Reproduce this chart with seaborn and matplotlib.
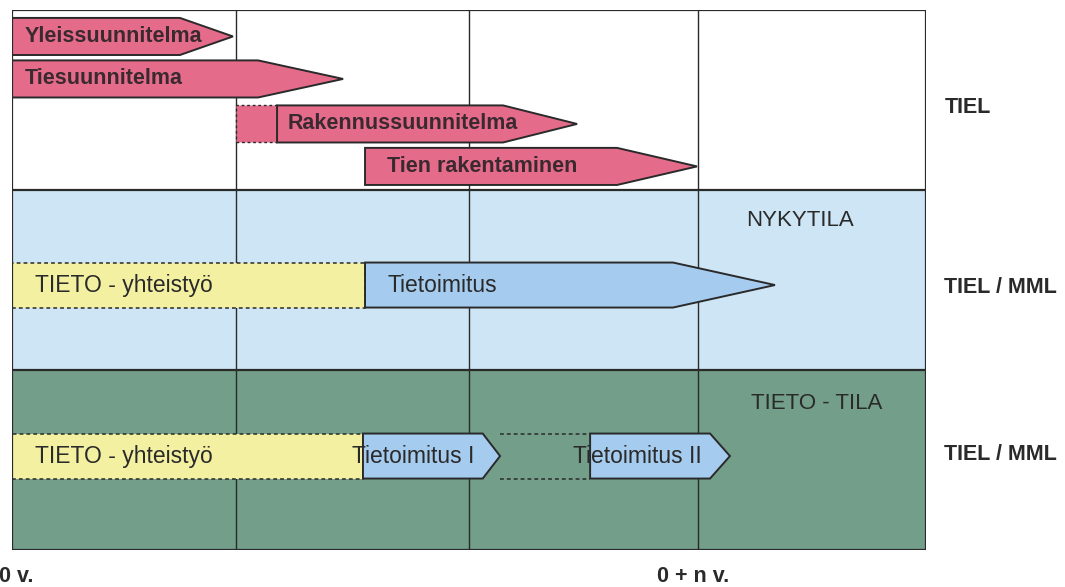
import matplotlib
matplotlib.use("Agg")
import matplotlib.pyplot as plt
from matplotlib.patches import Polygon, Rectangle
import seaborn as sns

# time axis: 0 .. 4 columns, bands stacked 0..3 (green, blue, white)
year_lines = [0.98, 2.0, 3.0]
year_ticks = [0.02, 2.98]
year_labels = ["0 v.", "0 + n v."]

band_bottom = [2, 1, 0]
band_colors = ["#ffffff", "#cde5f4", "#729e8a"]
band_owner = ["TIEL", "TIEL / MML", "TIEL / MML"]
owner_y = [2.46, 1.46, 0.53]
band_state = ["", "NYKYTILA", "TIETO - TILA"]
state_x = [0, 3.45, 3.52]
state_y = [0, 1.83, 0.815]

# road planning phases (top band)
plan_names = ["Yleissuunnitelma", "Tiesuunnitelma", "Rakennussuunnitelma", "Tien rakentaminen"]
plan_start = [0.0, 0.0, 1.16, 1.545]
plan_body_end = [0.735, 1.077, 2.149, 2.648]
plan_tip = [0.967, 1.449, 2.473, 2.998]
plan_lane = [2.853, 2.617, 2.367, 2.131]
plan_text_x = [0.055, 0.055, 1.205, 1.64]
plan_lead_in = [None, None, 0.98, None]

# cooperation + data delivery (blue and green bands)
coop_names = ["TIETO - yhteistyö", "TIETO - yhteistyö"]
coop_end = [1.545, 1.536]
coop_lane = [1.472, 0.522]

deliv_names = ["Tietoimitus", "Tietoimitus I", "Tietoimitus II"]
deliv_start = [1.545, 1.536, 2.53]
deliv_body_end = [2.893, 2.06, 3.055]
deliv_tip = [3.339, 2.136, 3.142]
deliv_lane = [1.472, 0.522, 0.522]
deliv_text_x = [1.645, 1.49, 2.455]

sns.set_theme(style="white")
plt.rcParams["font.family"] = ["Liberation Sans", "DejaVu Sans"]

fig = plt.figure(figsize=(10.65, 5.87), dpi=100)
ax = fig.add_axes([12 / 1065, 37 / 587, 914 / 1065, 540 / 587])
ax.set_xlim(0, 4)
ax.set_ylim(0, 3)
ax.axis("off")

ink = "#2a2a2a"
pink = "#e56b8b"
yellow = "#f3f0a2"
blue = "#a5cbef"


def arrow(x0, xb, xt, yc, h, color, lw=1.4):
    pts = [(x0, yc - h), (xb, yc - h), (xt, yc), (xb, yc + h), (x0, yc + h)]
    ax.add_patch(Polygon(pts, closed=True, facecolor=color, edgecolor=ink, lw=lw, zorder=3))


# bands
for b, c in zip(band_bottom, band_colors):
    ax.add_patch(Rectangle((0, b), 4, 1, facecolor=c, edgecolor="none", zorder=0))
for yy in [1, 2]:
    ax.plot([0, 4], [yy, yy], color=ink, lw=1.6, zorder=1)
for x in year_lines:
    ax.plot([x, x], [0, 3], color=ink, lw=1.0, zorder=1)
ax.add_patch(Rectangle((0, 0), 4, 3, facecolor="none", edgecolor=ink, lw=1.6, zorder=5))

# planning arrows
h = 0.103
for name, s, be, t, y, tx, lead in zip(plan_names, plan_start, plan_body_end, plan_tip,
                                      plan_lane, plan_text_x, plan_lead_in):
    if lead is not None:
        ax.add_patch(Rectangle((lead, y - h), s - lead, 2 * h, facecolor=pink,
                               edgecolor=ink, lw=1.0, ls=(0, (2, 2)), zorder=2))
    arrow(s, be, t, y, h, pink)
    ax.text(tx, y, name, ha="left", va="center", fontsize=15.5, fontweight="bold",
            color="#3a2a30", zorder=4)

# cooperation boxes
hb = 0.125
for name, e, y in zip(coop_names, coop_end, coop_lane):
    ax.add_patch(Rectangle((0, y - hb), e, 2 * hb, facecolor=yellow, edgecolor=ink,
                           lw=1.1, ls=(0, (2.5, 2)), zorder=2))
    ax.text(0.1, y, name, ha="left", va="center", fontsize=16.5, color=ink, zorder=4)

# dotted connection between Tietoimitus I and II
for yy in [coop_lane[1] - hb, coop_lane[1] + hb]:
    ax.plot([deliv_tip[1], deliv_start[2]], [yy, yy], color=ink, lw=1.1,
            ls=(0, (2.5, 2)), zorder=2)

# delivery arrows
for name, s, be, t, y, tx in zip(deliv_names, deliv_start, deliv_body_end, deliv_tip,
                                 deliv_lane, deliv_text_x):
    arrow(s, be, t, y, hb, blue)
    ax.text(tx, y, name, ha="left", va="center", fontsize=16.5, color=ink, zorder=4)

# band labels
for name, x, y in zip(band_state, state_x, state_y):
    if name:
        ax.text(x, y, name, ha="center", va="center", fontsize=16, color=ink, zorder=4)
for name, y in zip(band_owner, owner_y):
    ax.text(4.08, y, name, ha="left", va="center", fontsize=15.5, fontweight="bold",
            color=ink, clip_on=False)

# time labels
for x, lab in zip(year_ticks, year_labels):
    ax.text(x, -0.15, lab, ha="center", va="center", fontsize=15.5, fontweight="bold",
            color=ink, clip_on=False)

fig.savefig("out.png", dpi=100)
